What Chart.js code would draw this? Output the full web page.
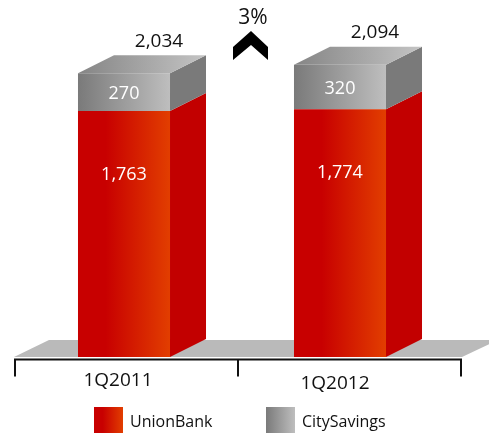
<!DOCTYPE html>
<html>
<head>
<meta charset="utf-8">
<script src="https://cdn.jsdelivr.net/npm/chart.js@4/dist/chart.umd.min.js"></script>
<style>
  html, body { margin: 0; padding: 0; background: #fff; }
  canvas { display: block; }
</style>
</head>
<body>
<canvas id="deposits" width="489" height="433"></canvas>
<script>
// Data
const labels = ['1Q2011', '1Q2012'];
const unionBank = [1763, 1774];
const citySavings = [270, 320];
const totals = [2034, 2094];
const growthLabel = '3%';

// Look
const FONT = '"Open Sans", "DejaVu Sans", sans-serif';
const BAR_PCT = 0.426;
const DEPTH_X = 36, DEPTH_Y = -18;
const RED_STOPS = [[0, '#c80000'], [0.3, '#c80000'], [1, '#e23e00']];
const GRAY_STOPS = [[0, '#7a7a7a'], [1, '#bebebe']];
const RED_SIDE = '#c20000';
const GRAY_SIDE = '#7a7a7a';

function makeGradient(c, x0, x1, stops) {
    const g = c.createLinearGradient(x0, 0, x1, 0);
    stops.forEach(s => g.addColorStop(s[0], s[1]));
    return g;
}

// front face gradient for each bar, built from the x scale
function frontGradient(ctx, stops) {
    const chart = ctx.chart;
    const xs = chart.scales.x;
    if (!chart.chartArea || !xs) return stops[0][1];
    const cx = xs.getPixelForValue(ctx.dataIndex);
    const half = xs.width / labels.length * BAR_PCT / 2;
    return makeGradient(chart.ctx, cx - half, cx + half, stops);
}

function poly(c, pts, fill) {
    c.beginPath();
    c.moveTo(pts[0][0], pts[0][1]);
    for (let i = 1; i < pts.length; i++) c.lineTo(pts[i][0], pts[i][1]);
    c.closePath();
    c.fillStyle = fill;
    c.fill();
}

const boxPlugin = {
    id: 'box3d',
    beforeDatasetsDraw(chart) {
        const c = chart.ctx;
        const a = chart.chartArea;
        const base = chart.scales.y.getPixelForValue(0);
        const l = a.left - 2, r = a.right + 14;
        c.save();
        // floor
        poly(c, [[l, base], [l + DEPTH_X - 1, base + DEPTH_Y + 1], [r + DEPTH_X, base + DEPTH_Y + 1], [r, base]], '#bababa');
        // axis line and ticks
        c.strokeStyle = '#111';
        c.lineWidth = 2;
        const ay = base + 2.5;
        c.beginPath();
        c.moveTo(l, ay); c.lineTo(r, ay);
        [l + 1, (l + r) / 2, r - 1].forEach(x => { c.moveTo(x, ay); c.lineTo(x, ay + 17); });
        c.stroke();
        c.restore();
    },
    afterDatasetsDraw(chart) {
        const c = chart.ctx;
        const metas = [chart.getDatasetMeta(0), chart.getDatasetMeta(1)];
        c.save();
        labels.forEach((lab, j) => {
            const red = metas[0].data[j];
            const gray = metas[1].data[j];
            const L = red.x - red.width / 2, R = red.x + red.width / 2;
            // side faces
            [[red, RED_SIDE], [gray, GRAY_SIDE]].forEach(([el, col]) => {
                poly(c, [[R, el.base], [R + DEPTH_X, el.base + DEPTH_Y], [R + DEPTH_X, el.y + DEPTH_Y], [R, el.y]], col);
            });
            // top face
            poly(c, [[L, gray.y], [L + DEPTH_X, gray.y + DEPTH_Y], [R + DEPTH_X, gray.y + DEPTH_Y], [R, gray.y]],
                makeGradient(c, L, R + DEPTH_X, [[0, '#858585'], [1, '#c4c4c4']]));

            c.textAlign = 'center';
            c.textBaseline = 'middle';
            c.font = '18px ' + FONT;
            c.fillStyle = '#fff';
            c.fillText(citySavings[j].toLocaleString('en-US'), gray.x, (gray.y + gray.base) / 2 + 2);
            c.fillText(unionBank[j].toLocaleString('en-US'), red.x, red.y + 64);
            c.fillStyle = '#111';
            c.font = '19px ' + FONT;
            c.fillText(totals[j].toLocaleString('en-US'), red.x + DEPTH_X - 1, gray.y + DEPTH_Y - 14);
        });

        // growth marker between the bars
        const mid = (chart.chartArea.left + chart.chartArea.right) / 2 + 19;
        c.fillStyle = '#111';
        c.font = '21px ' + FONT;
        c.fillText(growthLabel, mid + 2, 18);
        poly(c, [[mid - 18, 47], [mid, 31], [mid + 17, 47], [mid + 17, 60], [mid, 45], [mid - 18, 60]], '#000');
        c.restore();
    },
    afterDraw(chart) {
        const c = chart.ctx;
        const base = chart.scales.y.getPixelForValue(0);
        c.save();
        // category labels
        c.fillStyle = '#111';
        c.font = '19px ' + FONT;
        c.textAlign = 'center';
        c.textBaseline = 'middle';
        labels.forEach((lab, j) => {
            const x = chart.scales.x.getPixelForValue(j);
            c.fillText(lab, x - 6 + j * 1, base + 24 + j * 3);
        });
        // legend
        const items = [['UnionBank', RED_STOPS, 94], ['CitySavings', GRAY_STOPS, 266]];
        c.font = '16px ' + FONT;
        c.textAlign = 'left';
        items.forEach(([name, stops, x]) => {
            c.fillStyle = makeGradient(c, x, x + 29, stops);
            c.fillRect(x, 407, 29, 26);
            c.fillStyle = '#111';
            c.fillText(name, x + 36, 422);
        });
        c.restore();
    }
};

new Chart(document.getElementById('deposits'), {
    type: 'bar',
    data: {
        labels: labels,
        datasets: [
            { label: 'UnionBank', data: unionBank, backgroundColor: ctx => frontGradient(ctx, RED_STOPS) },
            { label: 'CitySavings', data: citySavings, backgroundColor: ctx => frontGradient(ctx, GRAY_STOPS) }
        ]
    },
    options: {
        responsive: false,
        animation: false,
        devicePixelRatio: 1,
        layout: { padding: { top: 8, bottom: 76, left: 16, right: 41 } },
        datasets: { bar: { barPercentage: BAR_PCT, categoryPercentage: 1, borderWidth: 0 } },
        scales: {
            x: { stacked: true, display: false },
            y: { stacked: true, display: false, min: 0, max: 2500 }
        },
        plugins: { legend: { display: false }, tooltip: { enabled: false } }
    },
    plugins: [boxPlugin]
});
</script>
</body>
</html>
